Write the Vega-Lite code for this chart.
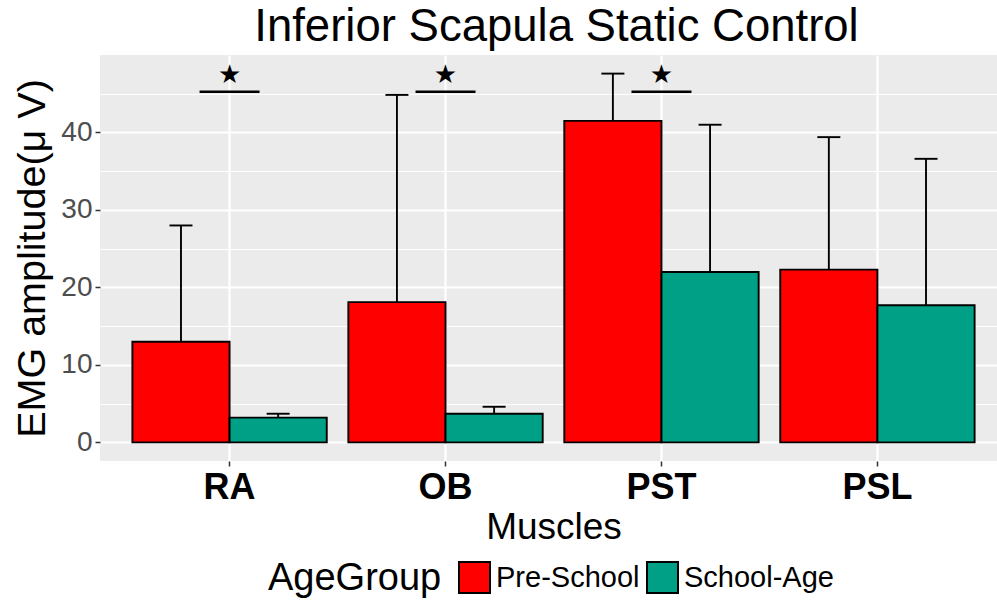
{
  "$schema": "https://vega.github.io/schema/vega-lite/v6.json",
  "autosize": {"type": "none"},
  "padding": {"left": 100, "top": 55, "right": 0, "bottom": 141},
  "width": 897,
  "height": 406,
  "background": "white",
  "title": {
    "text": "Inferior Scapula Static Control",
    "fontSize": 45.5,
    "font": "Liberation Sans",
    "fontWeight": "normal",
    "color": "black",
    "anchor": "middle",
    "frame": "group",
    "offset": 5,
    "dx": 8
  },
  "config": {
    "view": {"fill": "#EBEBEB", "stroke": null},
    "font": "Liberation Sans"
  },
  "datasets": {
    "bars": [
      {"muscle": "RA", "group": "Pre-School", "mean": 13.0, "upper": 28.0},
      {"muscle": "RA", "group": "School-Age", "mean": 3.2, "upper": 3.7},
      {"muscle": "OB", "group": "Pre-School", "mean": 18.1, "upper": 44.85},
      {"muscle": "OB", "group": "School-Age", "mean": 3.7, "upper": 4.6},
      {"muscle": "PST", "group": "Pre-School", "mean": 41.5, "upper": 47.6},
      {"muscle": "PST", "group": "School-Age", "mean": 22.0, "upper": 41.0},
      {"muscle": "PSL", "group": "Pre-School", "mean": 22.3, "upper": 39.4},
      {"muscle": "PSL", "group": "School-Age", "mean": 17.7, "upper": 36.6}
    ],
    "sig": [
      {"muscle": "RA", "line": 45.25, "star": 47.4, "label": "★"},
      {"muscle": "OB", "line": 45.25, "star": 47.4, "label": "★"},
      {"muscle": "PST", "line": 45.25, "star": 47.4, "label": "★"}
    ]
  },
  "encoding": {
    "x": {
      "field": "muscle",
      "type": "nominal",
      "sort": null,
      "scale": {"domain": ["RA", "OB", "PST", "PSL"], "range": [0, 907], "paddingInner": 0.1, "paddingOuter": 0.15},
      "axis": {
        "title": "Muscles",
        "titleFontSize": 37,
        "titleFontWeight": "normal",
        "titleColor": "black",
        "titlePadding": 4,
        "labelFontSize": 36,
        "labelFontWeight": "bold",
        "labelColor": "black",
        "labelAngle": 0,
        "labelPadding": 4,
        "domain": false,
        "ticks": true,
        "tickSize": 5,
        "tickColor": "#333333",
        "tickWidth": 1.5,
        "grid": true,
        "gridColor": "white",
        "gridWidth": 2.2,
        "bandPosition": 0.5
      }
    }
  },
  "layer": [
    {
      "data": {"name": "bars"},
      "mark": {"type": "bar", "stroke": "black", "strokeWidth": 1.9},
      "encoding": {
        "xOffset": {"field": "group", "type": "nominal", "scale": {"paddingInner": 0, "paddingOuter": 0}},
        "y": {
          "field": "mean",
          "type": "quantitative",
          "scale": {"domain": [-2.4, 50], "nice": false, "zero": false},
          "axis": {
            "title": "EMG amplitude(μ V)",
            "titleFontSize": 39.5,
            "titleFontWeight": "normal",
            "titleColor": "black",
            "titlePadding": 8,
            "values": [0, 5, 10, 15, 20, 25, 30, 35, 40, 45],
            "labelExpr": "datum.value % 10 === 0 ? datum.label : ''",
            "labelFontSize": 28,
            "labelColor": "#4D4D4D",
            "labelPadding": 3,
            "domain": false,
            "tickSize": 5,
            "tickColor": "#333333",
            "tickWidth": 1.5,
            "tickOpacity": {"condition": {"test": "datum.value % 10 !== 0", "value": 0}, "value": 1},
            "grid": true,
            "gridColor": "white",
            "gridWidth": {"condition": {"test": "datum.value % 10 !== 0", "value": 1.1}, "value": 2.2}
          }
        },
        "fill": {
          "field": "group",
          "type": "nominal",
          "scale": {"domain": ["Pre-School", "School-Age"], "range": ["#FF0000", "#00A087"]},
          "legend": {
            "title": "AgeGroup",
            "orient": "none",
            "legendX": 168,
            "legendY": 506,
            "direction": "horizontal",
            "titleOrient": "left",
            "titleFontSize": 38,
            "titleFontWeight": "normal",
            "titleColor": "black",
            "titlePadding": 16,
            "titleBaseline": "middle",
            "labelFontSize": 29,
            "labelColor": "black",
            "labelOffset": 5,
            "columnPadding": 3,
            "symbolType": "square",
            "symbolSize": 961,
            "symbolStrokeColor": "black",
            "symbolStrokeWidth": 2,
            "symbolOpacity": 1
          }
        }
      }
    },
    {
      "data": {"name": "bars"},
      "mark": {"type": "rule", "color": "black", "strokeWidth": 1.9},
      "encoding": {
        "xOffset": {"field": "group", "type": "nominal"},
        "y": {"field": "mean", "type": "quantitative"},
        "y2": {"field": "upper"}
      }
    },
    {
      "data": {"name": "bars"},
      "mark": {"type": "tick", "color": "black", "size": 23, "thickness": 1.9, "opacity": 1},
      "encoding": {
        "xOffset": {"field": "group", "type": "nominal"},
        "y": {"field": "upper", "type": "quantitative"}
      }
    },
    {
      "data": {"name": "sig"},
      "mark": {"type": "tick", "color": "black", "size": 60, "thickness": 2.5, "opacity": 1},
      "encoding": {
        "y": {"field": "line", "type": "quantitative"}
      }
    },
    {
      "data": {"name": "sig"},
      "mark": {"type": "text", "font": "DejaVu Sans", "fontSize": 26, "baseline": "middle", "align": "center", "color": "black"},
      "encoding": {
        "y": {"field": "star", "type": "quantitative"},
        "text": {"field": "label"}
      }
    }
  ]
}
